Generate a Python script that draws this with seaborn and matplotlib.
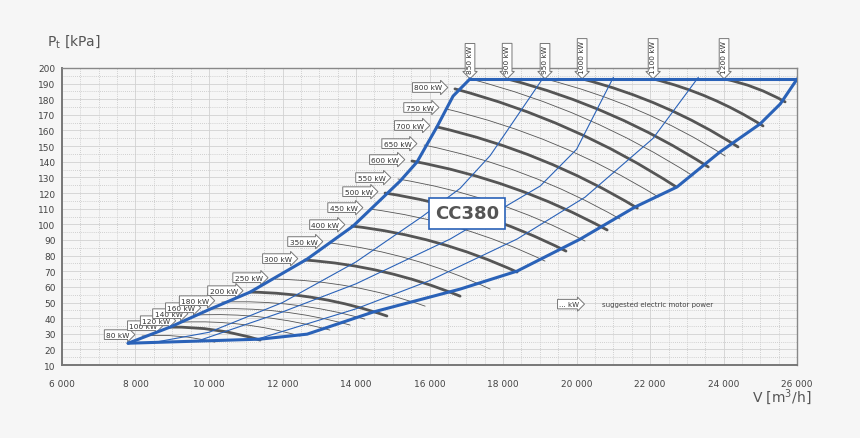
import numpy as np
import pandas as pd
import seaborn as sns
import matplotlib
matplotlib.use("Agg")
import matplotlib.pyplot as plt
from matplotlib.patches import FancyArrowPatch
from matplotlib.ticker import MultipleLocator, FuncFormatter

# ---- data ----
env_left_V = [7800, 8940, 10030, 11120, 12670, 13920, 15200, 15660, 16200, 16640, 17100]
env_left_P = [24, 34.3, 45.8, 56.7, 77.8, 98.9, 127.7, 139.9, 162.3, 182.0, 193]
env_top_V = [17100, 26000]
env_top_P = [193, 193]
env_bot_V = [7800, 9750, 11390, 12670, 14460, 16830, 18380, 20100, 21590, 22730, 23900, 24990, 25540, 26000]
env_bot_P = [24, 25.4, 26.6, 29.8, 43.9, 58.6, 70.1, 90.6, 111.1, 123.9, 146.3, 164.2, 177.0, 193]

sys1_V = [8500, 10000, 12000, 14000, 15800, 16830, 17650, 19100]
sys1_P = [24.5, 31, 50, 76, 105, 123, 144, 194]
sys2_V = [9700, 12000, 14000, 16560, 19010, 20000, 21000]
sys2_P = [25.5, 44, 62, 90.6, 124.5, 148, 194]
sys3_V = [11300, 14000, 16000, 18380, 20230, 22080, 23310]
sys3_P = [26.5, 46, 64, 90.6, 117.4, 155, 194]

power_kw = [80, 100, 120, 140, 160, 180, 200, 250, 300, 350, 400, 450, 500, 550,
            600, 650, 700, 750, 800, 850, 900, 950, 1000, 1100, 1200]
power_start_V = [8180, 8940, 9290, 9620, 9970, 10350, 11120, 11800, 12610, 13290, 13890, 14380, 14790, 15140,
                 15520, 15850, 16200, 16450, 16690, 17100, 18110, 19140, 20150, 22080, 24010]
power_start_P = [28.6, 34.3, 37.5, 42.0, 45.8, 50.3, 56.7, 65.0, 77.2, 88.1, 98.9, 109.8, 120.0, 129.0,
                 140.5, 150.7, 162.3, 173.8, 186.6, 193, 193, 193, 193, 193, 193]
power_end_V = [10160, 11390, 12480, 13290, 13840, 14240, 14840, 15880, 16830, 17650, 18380, 19140, 19710, 20230,
               20830, 21180, 21650, 22220, 22710, 23170, 23580, 24040, 24390, 25070, 25670]
power_end_P = [24.7, 26.0, 28.6, 32.4, 35.6, 39.4, 41.4, 47.7, 54.1, 58.6, 69.5, 76.5, 82.9, 89.3,
               96.4, 103.4, 110.4, 117.5, 123.9, 130.9, 136.7, 143.7, 149.5, 162.9, 178.3]
thick_kw = [100, 200, 300, 400, 500, 600, 700, 800, 900, 1000, 1100, 1200]
top_kw = [850, 900, 950, 1000, 1100, 1200]

x_ticks = [6000, 8000, 10000, 12000, 14000, 16000, 18000, 20000, 22000, 24000, 26000]
y_ticks = list(range(10, 201, 10))

# ---- style ----
sns.set_theme(style="white")
plt.rcParams['font.family'] = ['DejaVu Sans']
BG = "#f6f6f6"
BLUE = "#2a62b8"
GREY = "#555555"
TXT = "#555555"

fig = plt.figure(figsize=(8.6, 4.39), dpi=100, facecolor=BG)
ax = fig.add_axes([0.072, 0.166, 0.855, 0.677], facecolor=BG)
ax.set_xlim(6000, 26000)
ax.set_ylim(10, 200)

ax.xaxis.set_major_locator(MultipleLocator(2000))
ax.xaxis.set_minor_locator(MultipleLocator(500))
ax.yaxis.set_major_locator(MultipleLocator(10))
ax.yaxis.set_minor_locator(MultipleLocator(5))
ax.grid(which='major', color='#d2d2d2', lw=0.6, ls='-')
ax.grid(which='minor', color='#c4c4c4', lw=0.6, ls=(0, (1, 1.5)))
ax.set_axisbelow(True)
ax.set_xticks(x_ticks)
ax.set_yticks(y_ticks)
ax.xaxis.set_major_formatter(FuncFormatter(lambda v, p: f"{int(v):,}".replace(",", " ")))
ax.tick_params(axis='both', which='both', direction='inout', colors='#666666', labelsize=6.5,
               labelcolor='#444444')
ax.tick_params(axis='x', which='major', length=8, width=0.8, pad=6)
ax.tick_params(axis='x', which='minor', length=8, width=0.8)
ax.tick_params(axis='y', which='major', length=5, width=0.8, pad=2)
ax.tick_params(axis='y', which='minor', length=0)
for s in ['left', 'bottom']:
    ax.spines[s].set_color('#777777'); ax.spines[s].set_linewidth(1.4)
for s in ['top', 'right']:
    ax.spines[s].set_color('#888888'); ax.spines[s].set_linewidth(1.0)

# power lines
for kw, v0, p0, v1, p1 in zip(power_kw, power_start_V, power_start_P, power_end_V, power_end_P):
    thick = kw in thick_kw
    patch = FancyArrowPatch((v0, p0), (v1, p1), arrowstyle='-', connectionstyle='arc3,rad=-0.08',
                            color=GREY, lw=2.0 if thick else 0.6, shrinkA=0, shrinkB=0, zorder=3)
    ax.add_patch(patch)
    box = dict(boxstyle='rarrow,pad=0.25', fc='white', ec='#777777', lw=0.7)
    if kw in top_kw:
        ax.annotate(f"{kw} kW", xy=(v0, p0), xytext=(0, 4), textcoords='offset points',
                    rotation=90, ha='center', va='bottom', fontsize=5.3, color='#333333',
                    bbox=dict(boxstyle='larrow,pad=0.25', fc='white', ec='#777777', lw=0.7),
                    annotation_clip=False, zorder=5)
    else:
        ax.annotate(f"{kw} kW", xy=(v0, p0), xytext=(-9, 1), textcoords='offset points',
                    ha='right', va='center', fontsize=5.3, color='#333333', bbox=box, zorder=5)

# system curves (thin blue)
for vv, pp in [(sys1_V, sys1_P), (sys2_V, sys2_P), (sys3_V, sys3_P)]:
    sns.lineplot(x=vv, y=pp, ax=ax, color=BLUE, lw=0.8, sort=False, zorder=4)

# envelope
for vv, pp in [(env_left_V, env_left_P), (env_top_V, env_top_P), (env_bot_V, env_bot_P)]:
    sns.lineplot(x=vv, y=pp, ax=ax, color=BLUE, lw=2.2, sort=False, zorder=6)

# model label
ax.text(17020, 107, "CC380", ha='center', va='center', fontsize=13, fontweight='bold', color='#555555',
        bbox=dict(boxstyle='square,pad=0.35', fc='white', ec=BLUE, lw=1.2), zorder=8)

# legend note
ax.text(19800, 49, "... kW", ha='center', va='center', fontsize=5, color='#333333',
        bbox=dict(boxstyle='rarrow,pad=0.25', fc='white', ec='#777777', lw=0.7), zorder=5)
ax.text(20700, 49, "suggested electric motor power", ha='left', va='center', fontsize=5, color='#444444')

fig.text(0.055, 0.885, r"P$_\mathregular{t}$ [kPa]", fontsize=10, color=TXT, ha='left', va='bottom')
fig.text(0.875, 0.095, r"V [m$^\mathregular{3}$/h]", fontsize=10, color=TXT, ha='left', va='center')
ax.set_xlabel(""); ax.set_ylabel("")

fig.savefig("out.png", dpi=100, facecolor=BG)
